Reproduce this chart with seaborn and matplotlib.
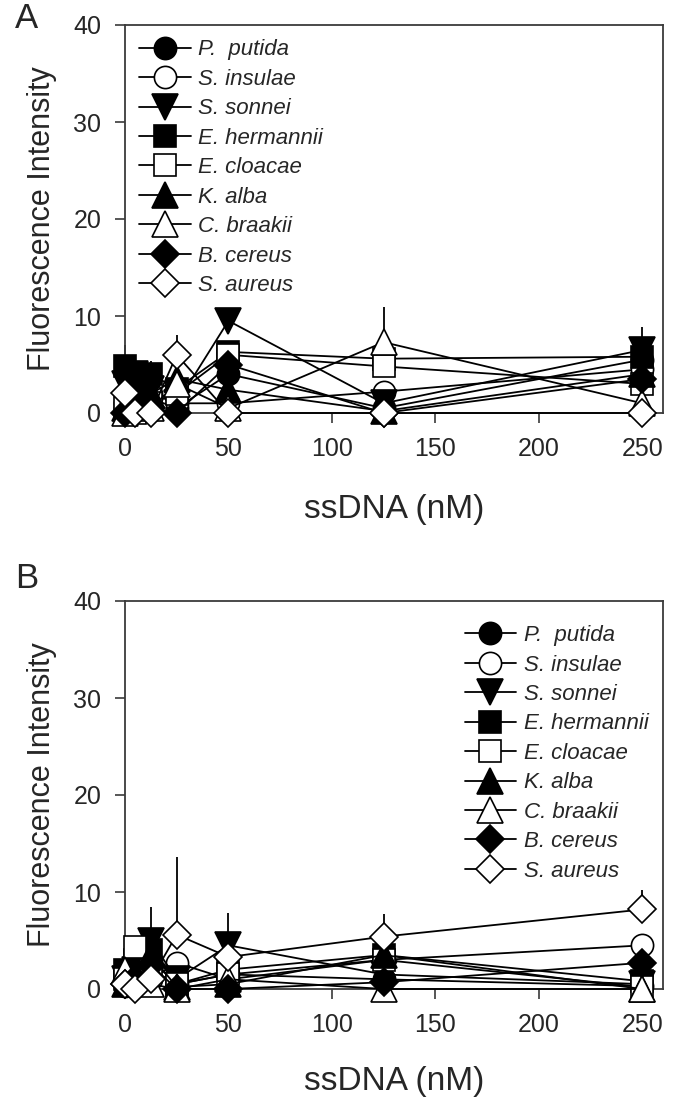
import numpy as np
import pandas as pd
import matplotlib
matplotlib.use("Agg")
import matplotlib.pyplot as plt
import seaborn as sns

# ---------------- data ----------------
ssdna = [0, 5, 12.5, 25, 50, 125, 250]
species = ["P.  putida", "S. insulae", "S. sonnei", "E. hermannii", "E. cloacae",
           "K. alba", "C. braakii", "B. cereus", "S. aureus"]

# Panel A (fluorescence intensity)
a_p_putida    = [1.0, 2.5, 1.5, 0.5, 4.0, 0.5, 5.5]
a_s_insulae   = [0.5, 1.0, 2.0, 1.0, 1.0, 2.2, 4.5]
a_s_sonnei    = [3.0, 4.0, 2.5, 1.0, 9.5, 1.0, 6.5]
a_e_hermannii = [4.8, 3.5, 4.0, 2.5, 6.3, 5.6, 5.8]
a_e_cloacae   = [0.5, 0.0, 1.0, 2.0, 6.0, 4.8, 3.0]
a_k_alba      = [0.5, 3.0, 2.0, 3.5, 2.4, 0.2, 4.0]
a_c_braakii   = [0.0, 1.0, 0.5, 3.0, 0.5, 7.3, 1.0]
a_b_cereus    = [0.0, 1.5, 0.5, 0.0, 5.0, 0.0, 3.5]
a_s_aureus    = [2.1, 0.0, 0.0, 6.0, 0.0, 0.0, 0.0]

# Panel A upper error bars
a_err_e_hermannii = [2.2, 1.0, 1.4, 0.0, 0.0, 0.0, 0.0]
a_err_s_sonnei    = [0.0, 0.0, 0.0, 0.0, 0.0, 0.0, 2.4]
a_err_c_braakii   = [0.0, 0.0, 0.0, 0.0, 0.0, 3.6, 0.0]
a_err_s_aureus    = [0.0, 0.0, 0.0, 2.0, 0.0, 0.0, 0.0]
a_err_e_cloacae   = [0.0, 0.0, 0.0, 0.0, 0.0, 2.0, 0.0]

# Panel B (fluorescence intensity)
b_p_putida    = [0.5, 1.5, 3.0, 0.5, 1.5, 1.0, 0.3]
b_s_insulae   = [0.3, 0.5, 1.0, 2.7, 1.0, 3.0, 4.5]
b_s_sonnei    = [1.0, 2.0, 5.0, 1.0, 4.5, 1.5, 0.5]
b_e_hermannii = [2.0, 3.0, 4.0, 0.5, 2.0, 3.5, 0.8]
b_e_cloacae   = [1.0, 4.3, 2.0, 0.5, 1.5, 3.0, 0.2]
b_k_alba      = [0.5, 1.5, 3.5, 0.2, 0.5, 3.5, 0.0]
b_c_braakii   = [2.0, 1.0, 0.5, 0.0, 1.0, 0.0, 0.0]
b_b_cereus    = [0.5, 1.0, 2.5, 0.0, 0.0, 0.7, 2.7]
b_s_aureus    = [0.5, 0.0, 1.0, 5.6, 3.3, 5.4, 8.2]

# Panel B upper error bars
b_err_s_sonnei  = [0.0, 0.0, 3.5, 0.0, 3.3, 0.0, 0.0]
b_err_e_cloacae = [0.0, 0.8, 0.0, 0.0, 0.0, 0.0, 0.0]
b_err_s_aureus  = [0.0, 0.0, 0.0, 8.0, 0.0, 2.3, 2.0]

# ---------------- styles ----------------
markers = ["o", "o", "v", "s", "s", "^", "^", "D", "D"]
filled = [True, False, True, True, False, True, False, True, False]
msizes = [16, 16, 19, 15.5, 15.5, 19, 19, 14, 14]

panel_a = [a_p_putida, a_s_insulae, a_s_sonnei, a_e_hermannii, a_e_cloacae,
           a_k_alba, a_c_braakii, a_b_cereus, a_s_aureus]
panel_b = [b_p_putida, b_s_insulae, b_s_sonnei, b_e_hermannii, b_e_cloacae,
           b_k_alba, b_c_braakii, b_b_cereus, b_s_aureus]
err_a = {"S. sonnei": a_err_s_sonnei, "E. hermannii": a_err_e_hermannii,
         "E. cloacae": a_err_e_cloacae, "C. braakii": a_err_c_braakii,
         "S. aureus": a_err_s_aureus}
err_b = {"S. sonnei": b_err_s_sonnei, "E. cloacae": b_err_e_cloacae,
         "S. aureus": b_err_s_aureus}

sns.set_style("ticks")
plt.rcParams["font.family"] = ["Liberation Sans", "DejaVu Sans"]

fig = plt.figure(figsize=(6.75, 11.06), dpi=100)
W, H = 675, 1106
ax_a = fig.add_axes([125 / W, 1 - 413 / H, 538 / W, 388 / H])
ax_b = fig.add_axes([125 / W, 1 - 989 / H, 538 / W, 388 / H])

spine_col = "#3a3a3a"


def draw_panel(ax, values, errs, legend_loc, legend_anchor, xpad):
    frames = []
    for name, vals in zip(species, values):
        frames.append(pd.DataFrame({"ssDNA": ssdna, "FI": vals, "species": name}))
    df = pd.concat(frames, ignore_index=True)

    for i, name in enumerate(species):
        sub = df[df["species"] == name]
        if name in errs:
            e = np.array(errs[name])
            ax.errorbar(sub["ssDNA"], sub["FI"], yerr=[np.zeros_like(e), e],
                        fmt="none", ecolor="black", elinewidth=1.3, capsize=0,
                        zorder=2 + i * 0.1, clip_on=False)
        sns.lineplot(data=sub, x="ssDNA", y="FI", ax=ax, sort=False,
                     errorbar=None, color="black", lw=1.3,
                     marker=markers[i], markersize=msizes[i],
                     mfc="black" if filled[i] else "white",
                     mec="black", mew=1.2, label=name, clip_on=False,
                     zorder=3 + i * 0.1)

    ax.set_xlim(0, 260)
    ax.set_ylim(0, 40)
    ax.set_xticks([0, 50, 100, 150, 200, 250])
    ax.set_yticks([0, 10, 20, 30, 40])
    ax.set_xlabel("ssDNA (nM)", fontsize=24, labelpad=xpad)
    ax.set_ylabel("Fluorescence Intensity", fontsize=22, labelpad=12)
    ax.tick_params(axis="both", direction="out", length=7, width=1.2,
                   labelsize=18, color=spine_col, pad=10)
    ax.tick_params(top=False, right=False)
    for s in ax.spines.values():
        s.set_visible(True)
        s.set_color(spine_col)
        s.set_linewidth(1.3)

    handles, labels = ax.get_legend_handles_labels()
    ax.legend(handles, labels, loc=legend_loc, bbox_to_anchor=legend_anchor,
              frameon=False, prop={"style": "italic", "size": 16},
              handlelength=2.3, handletextpad=0.35, labelspacing=0.38,
              numpoints=1, borderaxespad=0.25)


draw_panel(ax_a, panel_a, err_a, "upper left", (0.0, 1.0), 24)
draw_panel(ax_b, panel_b, err_b, "upper right", (1.0, 0.975), 21)

fig.text(15 / W, 1 - 18 / H, "A", fontsize=25, ha="left", va="center")
fig.text(15 / W, 1 - 578 / H, "B", fontsize=25, ha="left", va="center")

fig.savefig("out.png", dpi=100)
